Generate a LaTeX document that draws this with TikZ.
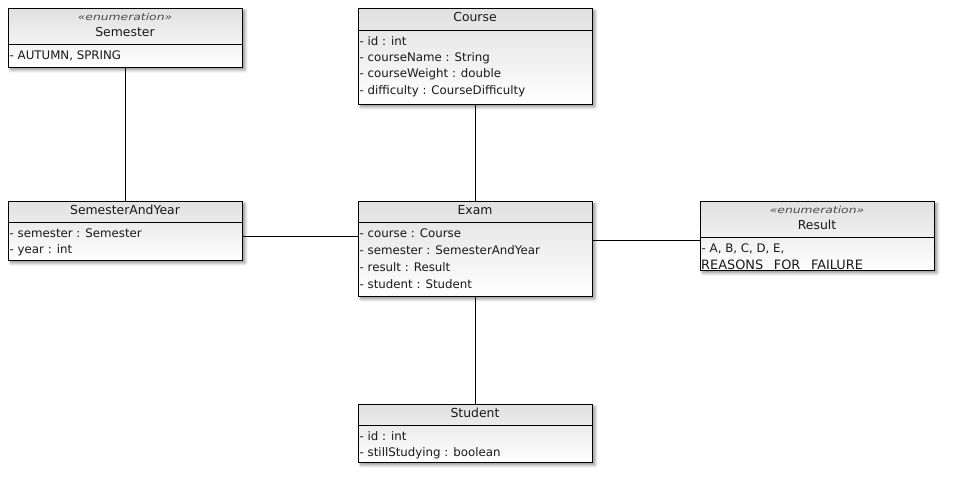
\documentclass[tikz,border=0pt]{standalone}
\usepackage{fontspec}
\setmainfont{DejaVu Sans}
\usetikzlibrary{shadows.blur}
\begin{document}
\begin{tikzpicture}[x=1pt,y=-1pt,
  umlbox/.style={draw=black, line width=0.9pt, rectangle, anchor=north west, inner sep=0pt,
     top color=black!12, bottom color=white,
     blur shadow={shadow xshift=2.5pt, shadow yshift=-2.5pt, shadow opacity=45, shadow blur radius=3pt, shadow blur steps=8}},
  divider/.style={line width=0.8pt},
  cname/.style={font=\fontsize{12.4}{14}\selectfont, text=black!90, inner sep=0pt},
  stereo/.style={font=\fontsize{9.5}{11}\selectfont\itshape\addfontfeatures{FakeStretch=1.3}, text=black!70, inner sep=0pt},
  attr/.style={font=\fontsize{11.8}{14}\selectfont, text=black!90, anchor=west, inner sep=0pt},
  conn/.style={line width=0.8pt}]
\useasboundingbox (0,0) rectangle (960,486);

% Semester
\node[umlbox, minimum width=234pt, minimum height=59pt] (sem) at (8,8) {};
\draw[divider] (8,44) -- (242,44);
\node[stereo] (semst) at (125,16.5) {«enumeration»};
\node[cname] (semn) at (125,31.5) {Semester};
\node[attr] (sema) at (9.5,56) {- AUTUMN, SPRING};

% Course
\node[umlbox, minimum width=234pt, minimum height=96pt] (course) at (358,8) {};
\draw[divider] (358,30) -- (592,30);
\node[cname] (coursen) at (475,17) {Course};
\node[attr] (ca1) at (359.5,41.5) {- id : int};
\node[attr] (ca2) at (359.5,58) {- courseName : String};
\node[attr] (ca3) at (359.5,74.5) {- courseWeight : double};
\node[attr] (ca4) at (359.5,91) {- difficulty : CourseDifficulty};

% SemesterAndYear
\node[umlbox, minimum width=234pt, minimum height=59pt] (say) at (8,201) {};
\draw[divider] (8,222) -- (242,222);
\node[cname] (sayn) at (125,210) {SemesterAndYear};
\node[attr] (saya1) at (9.5,233.5) {- semester : Semester};
\node[attr] (saya2) at (9.5,250.5) {- year : int};

% Exam
\node[umlbox, minimum width=234pt, minimum height=95pt] (exam) at (358,201) {};
\draw[divider] (358,222) -- (592,222);
\node[cname] (examn) at (475,210) {Exam};
\node[attr] (ea1) at (359.5,233.5) {- course : Course};
\node[attr] (ea2) at (359.5,250.5) {- semester : SemesterAndYear};
\node[attr] (ea3) at (359.5,267) {- result : Result};
\node[attr] (ea4) at (359.5,284) {- student : Student};

% Result
\node[umlbox, minimum width=234pt, minimum height=69pt] (res) at (700,201) {};
\draw[divider] (700,237) -- (934,237);
\node[stereo] (resst) at (817,209.5) {«enumeration»};
\node[cname] (resn) at (817,224.5) {Result};
\node[attr] (resa1) at (701.5,249) {- A, B, C, D, E,};
\node[attr, font=\fontsize{12.9}{14}\selectfont] (resa2) at (701,264.5) {REASONS\hspace{6.5pt} FOR\hspace{6.5pt} FAILURE};

% Student
\node[umlbox, minimum width=234pt, minimum height=58pt] (stud) at (358,404) {};
\draw[divider] (358,425) -- (592,425);
\node[cname] (studn) at (475,412.5) {Student};
\node[attr] (sta1) at (359.5,436.5) {- id : int};
\node[attr] (sta2) at (359.5,453.5) {- stillStudying : boolean};

% connectors
\draw[conn] (sem.south) -- (say.north);
\draw[conn] (course.south) -- (exam.north);
\draw[conn] (exam.south) -- (stud.north);
\draw[conn] (say.east |- 0,236) -- (exam.west |- 0,236);
\draw[conn] (exam.east |- 0,240) -- (res.west |- 0,240);
\end{tikzpicture}
\end{document}
